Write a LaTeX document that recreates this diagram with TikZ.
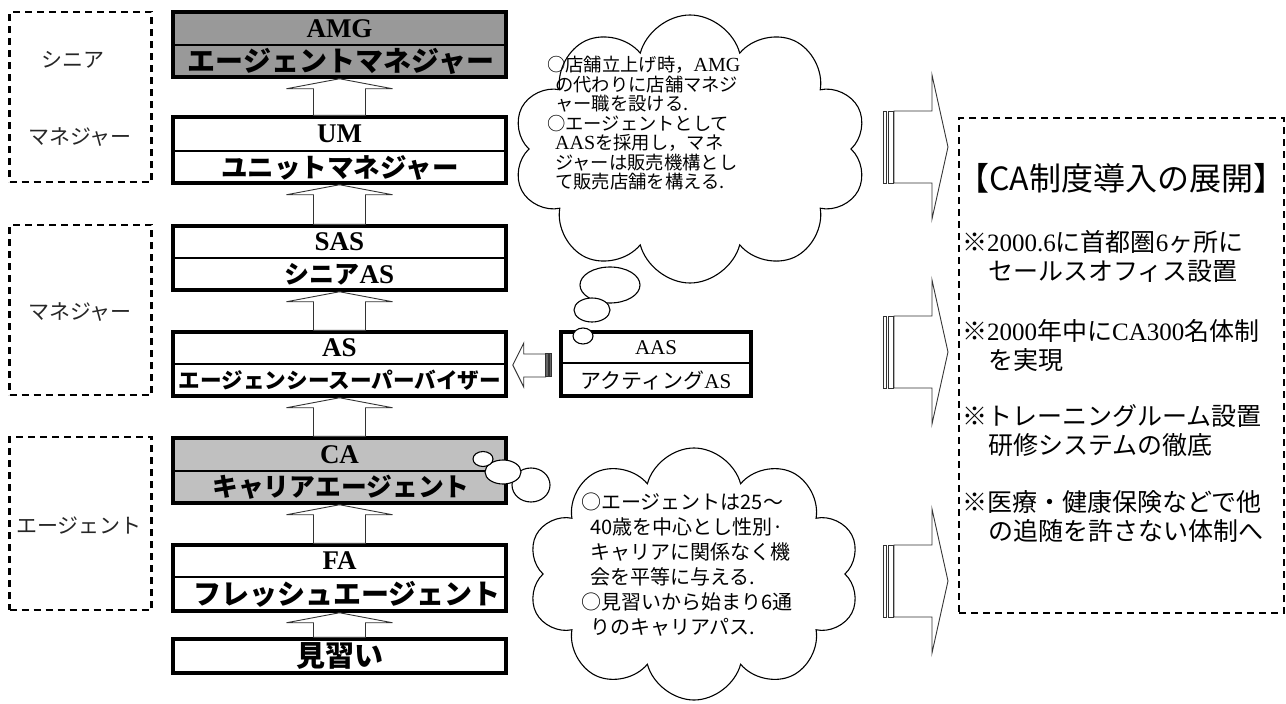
\documentclass[tikz,border=0pt]{standalone}
\usepackage{fontspec}
\setmainfont{Liberation Serif}
\newfontfamily\jp{Noto Sans CJK JP}
\usetikzlibrary{shapes.symbols,calc}
\definecolor{amggray}{HTML}{999999}
\definecolor{cagray}{HTML}{C0C0C0}
\newcommand\uparr[2]{\draw[blk] (#2.south) -- ++(53,10) -- ++(-27,0) -- ($(#1.north)+(26,0)$) -- ($(#1.north)+(-26,0)$) -- ($(#2.south)+(-26,10)$) -- ++(-27,0) -- cycle;}
\newcommand\rarr[1]{%
  \draw[blk] (894,#1-36) -- (932,#1-36) -- (932,#1-72) -- (948,#1) -- (932,#1+72) -- (932,#1+36) -- (894,#1+36) -- cycle;
  \draw[blk] (883,#1-36) rectangle (886.5,#1+36);
  \draw[blk] (888.5,#1-36) rectangle (893,#1+36);}
\begin{document}
\begin{tikzpicture}[x=1pt,y=-1pt,
  lvl/.style={draw, line width=3.5pt, minimum width=333pt, inner sep=0pt, fill=white},
  divider/.style={line width=1.4pt},
  grp/.style={draw, dash pattern=on 7pt off 5pt, line width=2.2pt, inner sep=0pt},
  grplbl/.style={font=\jp\fontsize{21}{21}\selectfont, text=black!85, inner sep=0pt},
  en/.style={font=\bfseries\fontsize{27}{27}\selectfont, inner sep=0pt},
  jb/.style={font=\jp\bfseries\fontsize{28}{28}\selectfont, inner sep=0pt},
  blk/.style={draw=black!80, line width=0.9pt, fill=white, line join=miter},
  cloudbox/.style={cloud, draw, line width=1.1pt, fill=white, cloud puffs=10, inner sep=0pt, aspect=1.3},
  bub/.style={draw, line width=1.1pt, fill=white},
  ctext/.style={align=left, inner sep=0pt, anchor=north west},
  rtext/.style={align=left, inner sep=0pt, anchor=north west, font=\fontsize{25}{28.5}\selectfont}
]
\useasboundingbox (0,0) rectangle (1286,704);

% group boxes on the left
\node[grp, minimum width=142pt, minimum height=170pt] (g1) at (80.5,97) {};
\node[grplbl] (g1a) at (73,60) {シニア};
\node[grplbl] (g1b) at (80,137) {マネジャー};
\node[grp, minimum width=142pt, minimum height=170pt] (g2) at (80.5,310) {};
\node[grplbl] (g2a) at (80,312) {マネジャー};
\node[grp, minimum width=142pt, minimum height=173pt] (g3) at (80.5,523.5) {};
\node[grplbl] (g3a) at (79,526) {エージェント};

% level boxes
\node[lvl, fill=amggray, minimum height=65pt] (amg) at (339.5,44.5) {};
\draw[divider] (amg.west |- 0,45) -- (amg.east |- 0,45);
\node[en] (amgT) at (339.5,29) {AMG};
\node[jb] (amgJ) at (341,61.5) {エージェントマネジャー};

\node[lvl, minimum height=66pt] (um) at (339.5,150) {};
\draw[divider] (um.west |- 0,151) -- (um.east |- 0,151);
\node[en] (umT) at (339.5,134) {UM};
\node[jb, font=\jp\bfseries\fontsize{26.5}{26.5}\selectfont] (umJ) at (340,167.5) {ユニットマネジャー};

\node[lvl, minimum height=64pt] (sas) at (339.5,258) {};
\draw[divider] (sas.west |- 0,258) -- (sas.east |- 0,258);
\node[en] (sasT) at (339.5,242) {SAS};
\node[en] (sasJ) at (339.5,274.5) {{\jp\fontsize{25}{25}\selectfont シニア}AS};

\node[lvl, minimum height=64pt] (as) at (339.5,364) {};
\draw[divider] (as.west |- 0,364) -- (as.east |- 0,364);
\node[en] (asT) at (339.5,348) {AS};
\node[jb, font=\jp\bfseries\fontsize{21.6}{21.6}\selectfont] (asJ) at (340,380.5) {エージェンシースーパーバイザー};

\node[lvl, fill=cagray, minimum height=65pt] (ca) at (339.5,470.5) {};
\draw[divider] (ca.west |- 0,471) -- (ca.east |- 0,471);
\node[en] (caT) at (339.5,454.5) {CA};
\node[jb, font=\jp\bfseries\fontsize{25.8}{25.8}\selectfont] (caJ) at (341,487.5) {キャリアエージェント};

\node[lvl, minimum height=66pt] (fa) at (339.5,578) {};
\draw[divider] (fa.west |- 0,577) -- (fa.east |- 0,577);
\node[en] (faT) at (339.5,561) {FA};
\node[jb] (faJ) at (347,594.5) {フレッシュエージェント};

\node[lvl, minimum height=34pt] (mn) at (339.5,656) {};
\node[jb, font=\jp\bfseries\fontsize{29}{29}\selectfont] (mnJ) at (339.5,656) {見習い};

% upward block arrows
\uparr{um}{amg}
\uparr{sas}{um}
\uparr{as}{sas}
\uparr{ca}{as}
\uparr{fa}{ca}
\uparr{mn}{fa}

% AAS box
\node[lvl, minimum width=190pt, minimum height=64pt] (aas) at (656,364) {};
\draw[divider] (aas.west |- 0,363) -- (aas.east |- 0,363);
\node[inner sep=0pt, font=\fontsize{21}{21}\selectfont] (aasT) at (656,348) {AAS};
\node[inner sep=0pt, font=\fontsize{21}{21}\selectfont] (aasJ) at (656,380) {{\jp アクティング}AS};

% left block arrow from AAS to AS
\draw[blk] ($(as.east)+(5,1)$) -- ++(11,-22) -- ++(0,11) -- ++(22,0) -- ++(0,23) -- ++(-22,0) -- ++(0,10) -- cycle;
\draw[blk, fill=black!60] ($(aas.west)+(-13.5,-11)$) rectangle ++(2.5,23);
\draw[blk, fill=black!60] ($(aas.west)+(-10,-11)$) rectangle ++(2.5,23);

% right striped arrows
\rarr{147}
\rarr{352}
\rarr{581}

% thought bubbles of cloud 1
\draw[bub] (610,285) ellipse [x radius=30, y radius=18];
\draw[bub] (592,310) ellipse [x radius=18, y radius=12];
\draw[bub] (583,336) ellipse [x radius=10, y radius=8];

% cloud 1
\node[cloudbox, minimum width=354pt, minimum height=268pt] (c1) at (690,149) {};
\node[ctext, font=\jp\fontsize{18.3}{19.5}\selectfont] (c1t) at (547,56) {○店舗立上げ時，{\rmfamily\fontsize{20}{19.5}\selectfont AMG}\\
\hspace*{8pt}の代わりに店舗マネジ\\
\hspace*{8pt}ャー職を設ける.\\
○エージェントとして\\
\hspace*{8pt}{\rmfamily\fontsize{20}{19.5}\selectfont AAS}を採用し，マネ\\
\hspace*{8pt}ジャーは販売機構とし\\
\hspace*{8pt}て販売店舗を構える.};

% thought bubbles of cloud 2
\draw[bub] (531,485) ellipse [x radius=19, y radius=17];
\draw[bub] (503,472) ellipse [x radius=18, y radius=12];
\draw[bub] (483,459) ellipse [x radius=10, y radius=7.5];

% cloud 2
\node[cloudbox, minimum width=332pt, minimum height=252pt] (c2) at (694,574) {};
\node[ctext, font=\jp\fontsize{20}{25}\selectfont] (c2t) at (581,493) {○エージェントは25〜\\
\hspace*{9pt}40歳を中心とし性別·\\
\hspace*{9pt}キャリアに関係なく機\\
\hspace*{9pt}会を平等に与える.\\
○見習いから始まり6通\\
\hspace*{9pt}りのキャリアパス.};

% right dashed box
\node[grp, minimum width=325pt, minimum height=495pt] (rb) at (1121.5,365.5) {};
\node[inner sep=0pt, font=\jp\fontsize{32}{32}\selectfont] (rbT) at (1121.5,178) {【CA制度導入の展開】};
\node[rtext] (r1) at (962,230.5) {{\jp ※}2000.6{\jp に首都圏}6{\jp ヶ所に}\\\hspace*{26pt}{\jp セールスオフィス設置}};
\node[rtext] (r2) at (962,319.5) {{\jp ※}2000{\jp 年中に}CA300{\jp 名体制}\\\hspace*{26pt}{\jp を実現}};
\node[rtext, font=\jp\fontsize{25}{28.5}\selectfont] (r3) at (962,404.5) {※トレーニングルーム設置\\\hspace*{26pt}研修システムの徹底};
\node[rtext, font=\jp\fontsize{25}{28.5}\selectfont] (r4) at (962,490.5) {※医療・健康保険などで他\\\hspace*{26pt}の追随を許さない体制へ};
\end{tikzpicture}
\end{document}
